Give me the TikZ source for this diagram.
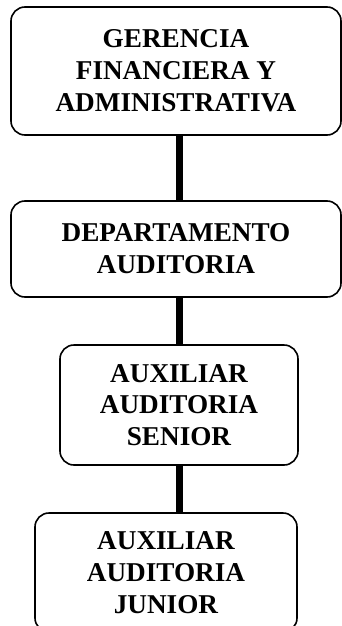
\documentclass[tikz,border=0pt]{standalone}
\usepackage{fontspec}
\setmainfont{Liberation Serif}
\begin{document}
\begin{tikzpicture}[x=1pt,y=1pt,
  orgbox/.style={draw, line width=1.6pt, rounded corners=14pt, align=center,
    font=\fontsize{27.2}{31.8}\selectfont\bfseries, inner sep=0pt},
  link/.style={line width=7pt}]
\useasboundingbox (0,0) rectangle (341,-626);
\node[orgbox, minimum width=330, minimum height=128] (b1) at (176,-71)
  {GERENCIA\\FINANCIERA Y\\ADMINISTRATIVA};
\node[orgbox, minimum width=330, minimum height=96] (b2) at (176,-249)
  {DEPARTAMENTO\\AUDITORIA};
\node[orgbox, minimum width=238, minimum height=120] (b3) at (179,-405)
  {AUXILIAR\\AUDITORIA\\SENIOR};
\node[orgbox, minimum width=262, minimum height=119] (b4) at (166,-572.5)
  {AUXILIAR\\AUDITORIA\\JUNIOR};
\draw[link] ([xshift=3pt]b1.south) -- ([xshift=3pt]b1.south |- b2.north);
\draw[link] ([xshift=3pt]b2.south) -- ([xshift=3pt]b2.south |- b3.north);
\draw[link] (b3.south) -- (b3.south |- b4.north);
\end{tikzpicture}
\end{document}
